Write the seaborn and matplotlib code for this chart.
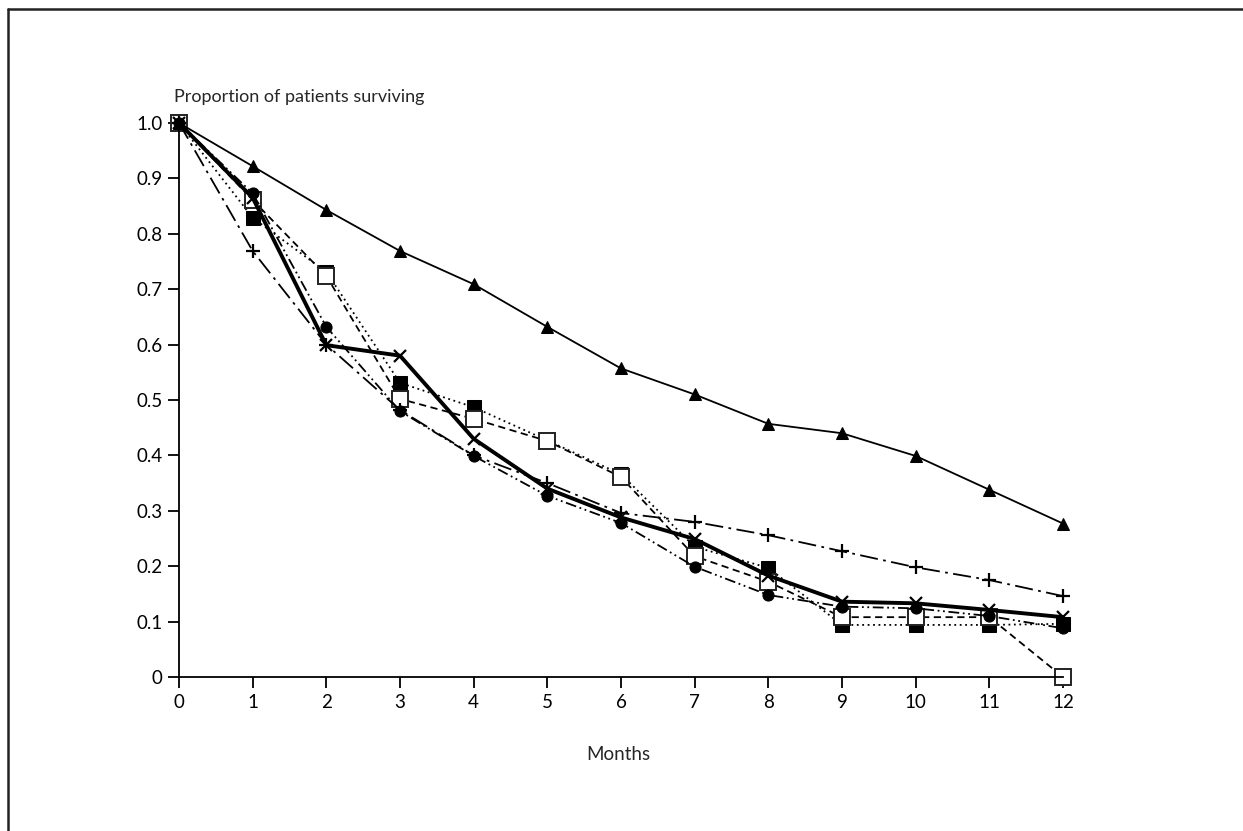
import matplotlib
matplotlib.use("Agg")
import matplotlib.pyplot as plt
import seaborn as sns
import pandas as pd
from matplotlib.lines import Line2D

months = list(range(13))
s_triangle = [1.0, 0.922, 0.843, 0.769, 0.709, 0.632, 0.557, 0.510, 0.457, 0.440, 0.399, 0.338, 0.277]
s_plus = [1.0, 0.769, 0.600, 0.482, 0.400, 0.350, 0.296, 0.280, 0.256, 0.227, 0.198, 0.175, 0.146]
s_cross = [1.0, 0.865, 0.599, 0.580, 0.430, 0.340, 0.288, 0.249, 0.183, 0.136, 0.133, 0.121, 0.108]
s_circle = [1.0, 0.873, 0.632, 0.480, 0.399, 0.327, 0.278, 0.199, 0.148, 0.127, 0.124, 0.110, 0.088]
s_fsquare = [1.0, 0.829, 0.731, 0.531, 0.487, 0.427, 0.366, 0.235, 0.197, 0.094, 0.094, 0.094, 0.096]
s_osquare = [1.0, 0.861, 0.724, 0.502, 0.466, 0.426, 0.361, 0.218, 0.172, 0.108, 0.108, 0.108, 0.0]

y_ticks = [0, 0.1, 0.2, 0.3, 0.4, 0.5, 0.6, 0.7, 0.8, 0.9, 1.0]
y_labels = ["0", "0.1", "0.2", "0.3", "0.4", "0.5", "0.6", "0.7", "0.8", "0.9", "1.0"]

sns.set_theme(style="white")
plt.rcParams['font.family'] = ['Lato', 'DejaVu Sans']

fig = plt.figure(figsize=(12.43, 8.31), dpi=100)
ax = fig.add_axes([179/1243, 1-677/831, (1063-179)/1243, (677-123)/831])

series = [
    (s_fsquare, dict(marker='s', markersize=10, markerfacecolor='black', markeredgecolor='black',
                     linestyle=(0, (1, 2)), linewidth=1.3)),
    (s_osquare, dict(marker='s', markersize=11, markerfacecolor='white', markeredgecolor='#222222',
                     markeredgewidth=1.4, linestyle=(0, (4, 2.5)), linewidth=1.3)),
    (s_circle, dict(marker='o', markersize=8, markerfacecolor='black', markeredgecolor='black',
                    linestyle=(0, (6, 2, 1, 2, 1, 2)), linewidth=1.3)),
    (s_plus, dict(marker='+', markersize=10, markeredgewidth=1.6, markeredgecolor='black',
                  linestyle=(0, (10, 3, 1.5, 3)), linewidth=1.3)),
    (s_triangle, dict(marker='^', markersize=8, markerfacecolor='black', markeredgecolor='black',
                      linestyle='-', linewidth=1.3)),
    (s_cross, dict(marker='x', markersize=8, markeredgewidth=1.6, markeredgecolor='black',
                   linestyle='-', linewidth=2.8)),
]

for vals, kw in series:
    df = pd.DataFrame({"month": months, "value": vals})
    sns.lineplot(data=df, x="month", y="value", ax=ax, color='black', clip_on=False, **kw)

ax.set_xlim(0, 12)
ax.set_ylim(0, 1.0)
ax.set_xticks(months)
ax.set_xticklabels([str(m) for m in months], fontsize=13.5)
ax.set_yticks(y_ticks)
ax.set_yticklabels(y_labels, fontsize=13.5)
ax.set_xlabel("")
ax.set_ylabel("")
for side in ["top", "right"]:
    ax.spines[side].set_visible(False)
for side in ["left", "bottom"]:
    ax.spines[side].set_color('black')
    ax.spines[side].set_linewidth(1.3)
ax.tick_params(axis='both', which='major', direction='out', length=8, width=1.3,
               color='black', labelcolor='black', bottom=True, left=True, pad=4)

fig.text(618/1243, 1-755/831, "Months", ha='center', va='center', fontsize=13.5)
fig.text(174/1243, 1-97/831, "Proportion of patients surviving", ha='left', va='center', fontsize=13)

# figure frame (top and left edges)
fig.add_artist(Line2D([8/1243, 1.0], [1-9/831, 1-9/831], transform=fig.transFigure, color='#222222', linewidth=1.8))
fig.add_artist(Line2D([8/1243, 8/1243], [0, 1-9/831], transform=fig.transFigure, color='#222222', linewidth=1.8))

fig.savefig("out.png", dpi=100, facecolor='white')
